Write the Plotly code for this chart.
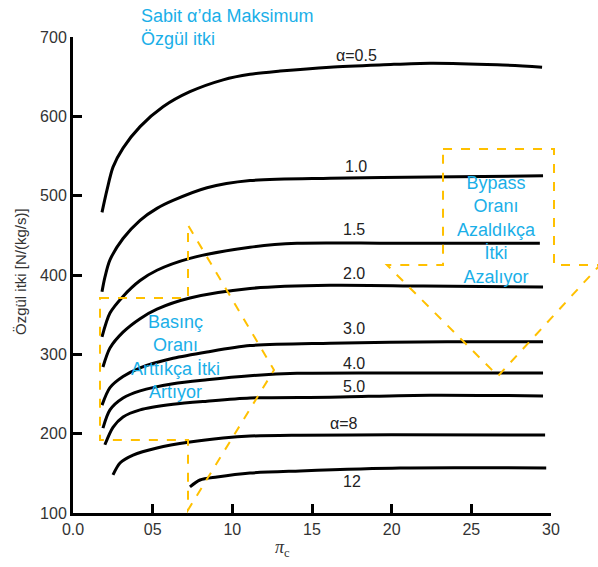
import plotly.graph_objects as go

# Specific thrust vs. compressor pressure ratio for several bypass ratios
alpha_labels = ["α=0.5", "1.0", "1.5", "2.0", "3.0", "4.0", "5.0", "α=8", "12"]

pi_05 = [1.82, 2.13, 2.51, 3.14, 4.21, 5.65, 7.34, 9.42, 11.11, 13.0, 16.13, 19.5, 22.41, 26.62, 29.44]
thr_05 = [479, 507, 536, 560, 587, 612, 631, 646, 653, 657, 662, 665, 667, 665, 662]

pi_10 = [1.82, 2.0, 2.32, 3.14, 4.21, 5.27, 6.28, 8.41, 11.11, 16.13, 22.41, 29.5]
thr_10 = [379, 397, 419, 446, 469, 484, 494, 510, 519, 522, 523.5, 525]

pi_15 = [1.82, 2.32, 3.14, 4.21, 5.27, 7.34, 11.11, 14.06, 20.0, 29.3]
thr_15 = [322, 352, 373, 393, 406, 421, 435, 440, 440, 440]

pi_20 = [1.88, 2.32, 3.14, 4.21, 5.27, 7.34, 11.11, 16.13, 22.0, 29.5]
thr_20 = [284, 308, 328, 345, 357, 371, 383, 387, 386, 385]

pi_30 = [1.82, 2.32, 3.14, 4.21, 6.28, 8.41, 11.11, 16.13, 23.48, 29.5]
thr_30 = [236, 258, 272, 283, 295, 303, 311, 314, 316, 316]

pi_40 = [1.88, 2.32, 3.14, 4.21, 6.28, 8.41, 11.11, 14.06, 20.0, 29.5]
thr_40 = [207, 230, 245, 254, 263, 268, 273, 276, 276.5, 276.5]

pi_50 = [2.0, 2.51, 3.14, 4.21, 6.28, 8.41, 11.11, 16.13, 22.41, 29.5]
thr_50 = [186, 208, 221, 230, 237, 241, 245, 246, 248.5, 247.5]

pi_80 = [2.51, 2.95, 3.77, 5.27, 7.34, 9.42, 11.11, 14.25, 20.0, 29.63]
thr_80 = [148, 163, 173, 182, 189.5, 194.5, 197, 198, 198.5, 198.3]

pi_120 = [7.34, 7.97, 9.04, 11.11, 14.25, 20.53, 29.7]
thr_120 = [133, 141.6, 145.4, 150.4, 153, 156.7, 156.7]

series = [(pi_05, thr_05), (pi_10, thr_10), (pi_15, thr_15), (pi_20, thr_20),
          (pi_30, thr_30), (pi_40, thr_40), (pi_50, thr_50), (pi_80, thr_80),
          (pi_120, thr_120)]

# curve label anchor positions (pi_c, thrust)
label_x = [17.77, 17.77, 17.64, 17.64, 17.64, 17.64, 17.64, 17.0, 17.5]
label_y = [677, 537, 457, 402, 333, 289, 260, 213, 140]

x_ticks = [0, 5, 10, 15, 20, 25, 30]
x_ticktext = ["0.0", "05", "10", "15", "20", "25", "30"]
y_ticks = [100, 200, 300, 400, 500, 600, 700]

fig = go.Figure()
for (xs, ys), name in zip(series, alpha_labels):
    fig.add_trace(go.Scatter(
        x=xs, y=ys, mode="lines", name=name,
        line=dict(color="black", width=3, shape="spline", smoothing=0.8),
        showlegend=False, hoverinfo="skip"))

label_font = dict(family="Liberation Sans, Arial", size=16, color="#222222")
for name, lx, ly in zip(alpha_labels, label_x, label_y):
    fig.add_annotation(x=lx, y=ly, text=name, showarrow=False,
                       font=label_font, xanchor="center", yanchor="middle")

cyan = "#1AAFE8"
text_font = dict(family="Liberation Sans, Arial", size=18, color=cyan)
fig.add_annotation(xref="paper", yref="paper", x=(139 - 73) / 478, y=(513 - 4) / 476,
                   text="Sabit α’da Maksimum<br>Özgül itki", showarrow=False,
                   align="left", xanchor="left", yanchor="top", font=text_font)
fig.add_annotation(xref="paper", yref="paper", x=(175 - 73) / 478, y=(513 - 357) / 476,
                   text="Basınç<br>Oranı<br>Arttıkça İtki<br>Artıyor", showarrow=False,
                   align="center", xanchor="center", yanchor="middle", font=text_font)
fig.add_annotation(xref="paper", yref="paper", x=(496 - 73) / 478, y=(513 - 230) / 476,
                   text="Bypass<br>Oranı<br>Azaldıkça<br>İtki<br>Azalıyor", showarrow=False,
                   align="center", xanchor="center", yanchor="middle", font=text_font)


def px_path(points):
    """Build an SVG path in paper coordinates from plot-pixel points."""
    parts = []
    for i, (px, py) in enumerate(points):
        xp = (px - 73) / 478
        yp = (513 - py) / 476
        parts.append(("M" if i == 0 else "L") + f"{xp:.4f},{yp:.4f}")
    return " ".join(parts) + " Z"


arrow_line = dict(color="#FFC000", width=2, dash="dash")
# right-pointing block arrow (pressure ratio rising)
fig.add_shape(type="path", xref="paper", yref="paper", line=arrow_line,
              path=px_path([(100, 298), (188, 298), (188, 225), (274, 370),
                            (188, 510), (188, 440), (100, 440)]))
# down-pointing block arrow (bypass ratio falling)
fig.add_shape(type="path", xref="paper", yref="paper", line=arrow_line,
              path=px_path([(443, 149), (554, 149), (554, 265), (600, 265),
                            (498, 376), (387, 265), (443, 265)]))

# axis titles
fig.add_annotation(xref="paper", yref="paper", x=(282 - 73) / 478, y=(513 - 548) / 476,
                   text="<i>π</i><sub>c</sub>", showarrow=False,
                   font=dict(family="Liberation Serif, Times New Roman", size=18, color="#333333"),
                   xanchor="center", yanchor="middle")
fig.add_annotation(xref="paper", yref="paper", x=(20 - 73) / 478, y=(513 - 272) / 476,
                   text="Özgül itki [N/(kg/s)]", showarrow=False, textangle=-90,
                   font=dict(family="Liberation Sans, Arial", size=15, color="#333333"),
                   xanchor="center", yanchor="middle")

axis_common = dict(showline=True, linecolor="black", linewidth=3, showgrid=False,
                   zeroline=False, ticks="inside", ticklen=9, tickwidth=3,
                   tickcolor="black",
                   tickfont=dict(family="Liberation Sans, Arial", size=16, color="#333333"))

fig.update_xaxes(range=[0, 30], tickvals=x_ticks, ticktext=x_ticktext, **axis_common)
fig.update_yaxes(range=[100, 700], tickvals=y_ticks, **axis_common)

fig.update_layout(width=598, height=567, margin=dict(l=73, r=47, t=37, b=54),
                  plot_bgcolor="white", paper_bgcolor="white")

fig.write_html("out.html")
